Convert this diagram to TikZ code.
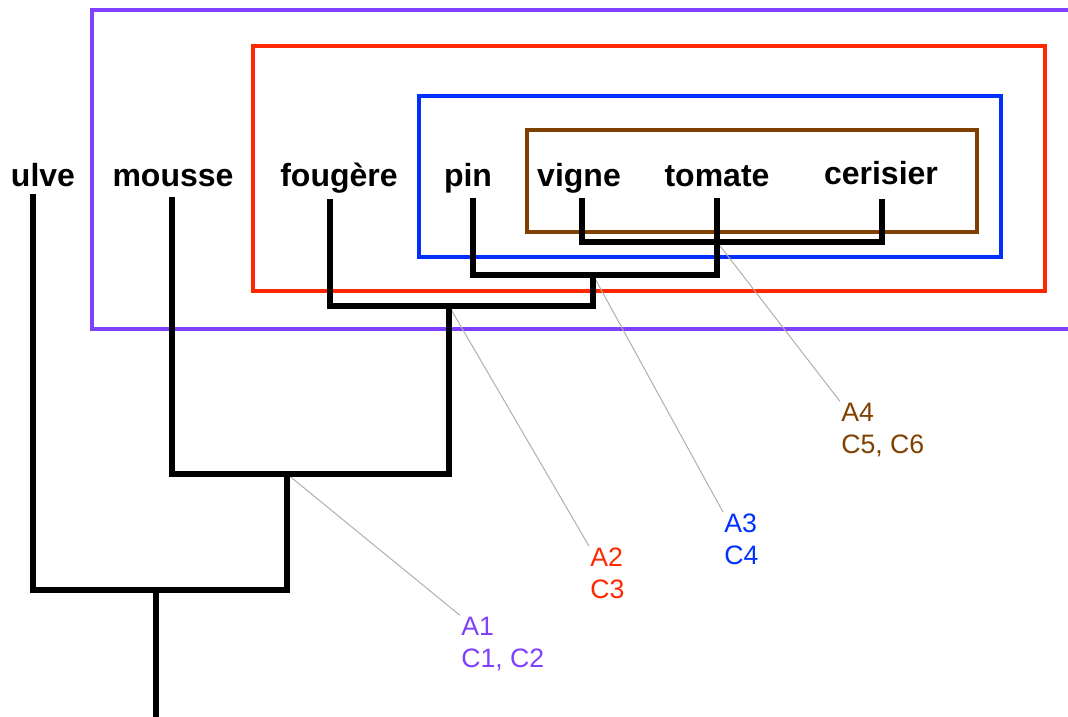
\documentclass[tikz,border=0pt]{standalone}
\usepackage{fontspec}
\setmainfont{Liberation Sans}

\begin{document}
\begin{tikzpicture}[x=0.75pt,y=0.75pt,yscale=-1,xscale=1,
  branch/.style={line width=4.5pt,line join=miter},
  box/.style={line width=3pt},
  leader/.style={draw={rgb, 255:red, 175; green, 175; blue, 175},line width=0.75pt},
  taxon/.style={anchor=base,inner sep=0.75pt,font=\bfseries\fontsize{24}{28}\selectfont},
  apo/.style={anchor=base west,inner sep=0.75pt,align=left,font=\fontsize{20}{24}\selectfont}]
\useasboundingbox (0,0) rectangle (1068,717);
\clip (0,0) rectangle (1068,717);

%Shape: Rectangles (nested groups)
\draw [box,draw={rgb, 255:red, 128; green, 64; blue, 255}] (92,10) rectangle (1085,329) ;
\draw [box,draw={rgb, 255:red, 255; green, 40; blue, 0}] (253,46) rectangle (1045,291) ;
\draw [box,draw={rgb, 255:red, 0; green, 48; blue, 255}] (419,96) rectangle (1001,257) ;
\draw [box,draw={rgb, 255:red, 128; green, 64; blue, 0}] (527,130) rectangle (977,232) ;

% Text Node
\node [taxon] (ulve) at (43,186) {ulve};
\node [taxon] (mousse) at (173,186) {mousse};
\node [taxon] (fougere) at (339,186) {fougère};
\node [taxon] (pin) at (468,186) {pin};
\node [taxon] (vigne) at (579,186) {vigne};
\node [taxon] (tomate) at (717,186) {tomate};
\node [taxon] (cerisier) at (881,184) {cerisier};

% Text Node (second line on the baseline)
\node [apo,text={rgb, 255:red, 128; green, 64; blue, 255}] (lab1) at (460,667) {A1\\C1, C2};
\node [apo,text={rgb, 255:red, 255; green, 40; blue, 0}] (lab2) at (589,598) {A2\\C3};
\node [apo,text={rgb, 255:red, 0; green, 48; blue, 255}] (lab3) at (723,564) {A3\\C4};
\node [apo,text={rgb, 255:red, 128; green, 64; blue, 0}] (lab4) at (840,453) {A4\\C5, C6};

%tops of the branches
\coordinate (t-ulve) at (33,194);
\coordinate (t-mousse) at (172,197);
\coordinate (t-fougere) at (330,199);
\coordinate (t-pin) at (473,198);
\coordinate (t-vigne) at (582,198);
\coordinate (t-tomate) at (717,198);
\coordinate (t-cerisier) at (882,199);
%junctions
\coordinate (n4) at (717,242);
\coordinate (b4) at (717,275);
\coordinate (n3) at (593,275);
\coordinate (b3) at (593,306);
\coordinate (n2) at (449,306);
\coordinate (b2) at (449,474);
\coordinate (n1) at (287,474);
\coordinate (b1) at (287,590);
\coordinate (root) at (156,590);
\coordinate (rootend) at (156,725);

%Straight Lines (leaders)
\draw [leader] (n1) -- (lab1.north west) ;
\draw [leader] (n2) -- (lab2.north west) ;
\draw [leader] (n3) -- (lab3.north west) ;
\draw [leader] (n4) -- (lab4.north west) ;

%Straight Lines (tree)
\draw [branch] (t-vigne) |- (n4) -| (t-cerisier) ;
\draw [branch] (t-pin) |- (b4) -- (t-tomate) ;
\draw [branch] (t-fougere) |- (b3) -- (n3) ;
\draw [branch] (t-mousse) |- (b2) -- (n2) ;
\draw [branch] (t-ulve) |- (b1) -- (n1) ;
\draw [branch] (root) -- (rootend) ;

\end{tikzpicture}
\end{document}
